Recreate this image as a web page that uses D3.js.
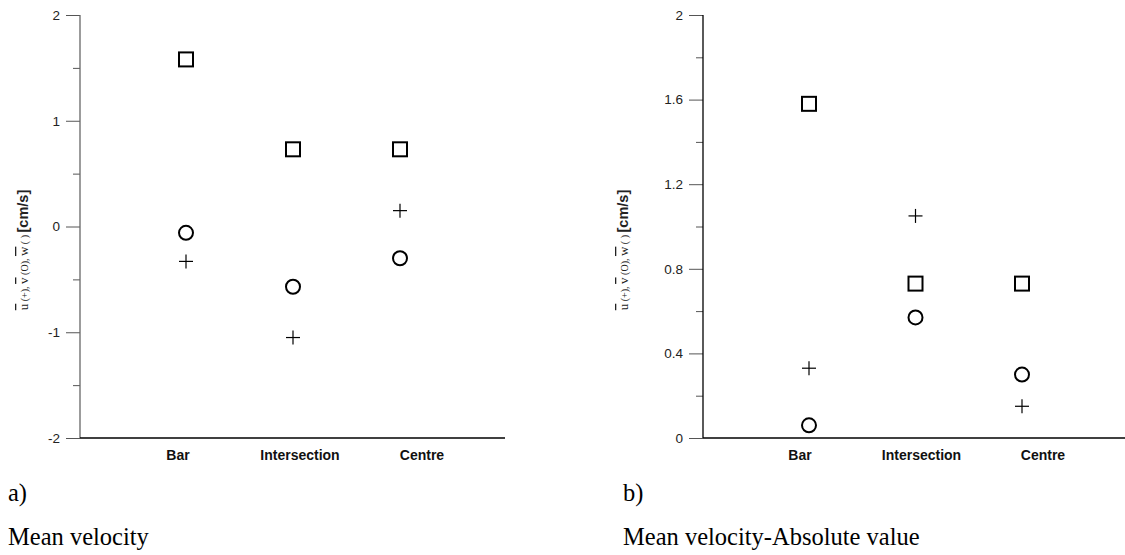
<!DOCTYPE html>
<html>
<head>
<meta charset="utf-8">
<script src="https://cdn.jsdelivr.net/npm/d3@7"></script>
<style>
  body { margin: 0; background: #fff; }
  svg { display: block; }
</style>
</head>
<body>
<div id="chart"></div>
<script>
// Data
const categories = ['Bar', 'Intersection', 'Centre'];

// a) mean velocity
const uMean = [-0.33, -1.05, 0.15];
const vMean = [-0.06, -0.57, -0.30];
const wMean = [1.58, 0.73, 0.73];

// b) mean velocity, absolute value
const uAbs = [0.33, 1.05, 0.15];
const vAbs = [0.06, 0.57, 0.30];
const wAbs = [1.58, 0.73, 0.73];

// Axis ticks
const majorTicksA = [-2, -1, 0, 1, 2];
const minorTicksA = [-1.5, -0.5, 0.5, 1.5];
const majorTicksB = [0, 0.4, 0.8, 1.2, 1.6, 2];
const minorTicksB = [0.2, 0.6, 1.0, 1.4, 1.8];

const width = 1125;
const height = 555;

const svg = d3.select('#chart')
    .append('svg')
    .attr('width', width)
    .attr('height', height);

const panels = [
    {
        axisX: 80, axisEnd: 505, axisColor: '#666',
        domain: [-2, 2], major: majorTicksA, minor: minorTicksA,
        markerRange: [186, 400], labelRange: [178, 422],
        u: uMean, v: vMean, w: wMean,
        titleX: 28, tag: 'a)', caption: 'Mean velocity', textX: 8
    },
    {
        axisX: 703, axisEnd: 1125, axisColor: '#000',
        domain: [0, 2], major: majorTicksB, minor: minorTicksB,
        markerRange: [809, 1022], labelRange: [800, 1043],
        u: uAbs, v: vAbs, w: wAbs,
        titleX: 628, tag: 'b)', caption: 'Mean velocity-Absolute value', textX: 623
    }
];

const plotTop = 15;
const plotBottom = 438;
const serif = '"Times New Roman", "Liberation Serif", serif';
const sans = 'Arial, "Liberation Sans", sans-serif';

panels.forEach(p => {
    const g = svg.append('g');
    const y = d3.scaleLinear().domain(p.domain).range([plotBottom, plotTop]);
    const x = d3.scalePoint().domain(categories).range(p.markerRange);
    const xLabel = d3.scalePoint().domain(categories).range(p.labelRange);

    // major ticks + labels
    const yAxis = g.append('g')
        .attr('transform', `translate(${p.axisX},0)`)
        .call(d3.axisLeft(y).tickValues(p.major).tickSize(14).tickSizeOuter(0).tickPadding(6)
            .tickFormat(d => String(d)));
    yAxis.select('.domain').remove();
    yAxis.selectAll('.tick line').attr('stroke', '#555');
    yAxis.selectAll('.tick text')
        .attr('font-family', sans)
        .attr('font-size', 13.5)
        .attr('fill', '#222');

    // minor ticks
    const yMinor = g.append('g')
        .attr('transform', `translate(${p.axisX},0)`)
        .call(d3.axisLeft(y).tickValues(p.minor).tickSize(7).tickFormat(''));
    yMinor.select('.domain').remove();
    yMinor.selectAll('.tick line').attr('stroke', '#555');

    // axis lines
    g.append('line')
        .attr('x1', p.axisX).attr('x2', p.axisX)
        .attr('y1', y(p.domain[1])).attr('y2', y(p.domain[0]))
        .attr('stroke', p.axisColor).attr('stroke-width', 1.3);
    g.append('line')
        .attr('x1', p.axisX).attr('x2', p.axisEnd)
        .attr('y1', plotBottom).attr('y2', plotBottom)
        .attr('stroke', '#000').attr('stroke-width', 1.3);

    // category labels
    g.selectAll('.cat')
        .data(categories)
        .enter().append('text')
        .attr('class', 'cat')
        .attr('x', d => xLabel(d))
        .attr('y', 460)
        .attr('text-anchor', 'middle')
        .attr('font-family', sans)
        .attr('font-weight', 'bold')
        .attr('font-size', 14)
        .attr('fill', '#111')
        .text(d => d);

    // w: squares
    g.selectAll('.sq')
        .data(p.w)
        .enter().append('rect')
        .attr('x', (d, i) => x(categories[i]) - 7)
        .attr('y', d => y(d) - 7)
        .attr('width', 14)
        .attr('height', 14)
        .attr('fill', 'none')
        .attr('stroke', '#000')
        .attr('stroke-width', 2);

    // v: circles
    g.selectAll('.ci')
        .data(p.v)
        .enter().append('circle')
        .attr('cx', (d, i) => x(categories[i]))
        .attr('cy', d => y(d))
        .attr('r', 7)
        .attr('fill', 'none')
        .attr('stroke', '#000')
        .attr('stroke-width', 2);

    // u: plus signs
    const plus = g.selectAll('.pl')
        .data(p.u)
        .enter().append('g')
        .attr('transform', (d, i) => `translate(${x(categories[i])},${y(d)})`);
    plus.append('line').attr('x1', -7).attr('x2', 7).attr('stroke', '#000').attr('stroke-width', 1.2);
    plus.append('line').attr('y1', -7).attr('y2', 7).attr('stroke', '#000').attr('stroke-width', 1.2);

    // y-axis title
    const title = g.append('text')
        .attr('transform', `translate(${p.titleX},250) rotate(-90)`)
        .attr('text-anchor', 'middle')
        .attr('fill', '#222');
    const parts = [
        ['u', true, 13], [' (+), ', false, 10],
        ['v', true, 13], [' (O), ', false, 10],
        ['w', true, 13], [' (  ) ', false, 10]
    ];
    parts.forEach(([t, over, fs]) => {
        title.append('tspan')
            .attr('font-family', serif)
            .attr('font-size', fs)
            .style('text-decoration', over ? 'overline' : 'none')
            .text(t);
    });
    title.append('tspan')
        .attr('font-family', sans)
        .attr('font-weight', 'bold')
        .attr('font-size', 14.5)
        .text(' [cm/s]');

    // panel tag and caption
    svg.append('text')
        .attr('x', p.textX).attr('y', 501)
        .attr('font-family', serif)
        .attr('font-size', 24.5)
        .text(p.tag);
    svg.append('text')
        .attr('x', p.textX).attr('y', 545)
        .attr('font-family', serif)
        .attr('font-size', 24.5)
        .text(p.caption);
});
</script>
</body>
</html>
